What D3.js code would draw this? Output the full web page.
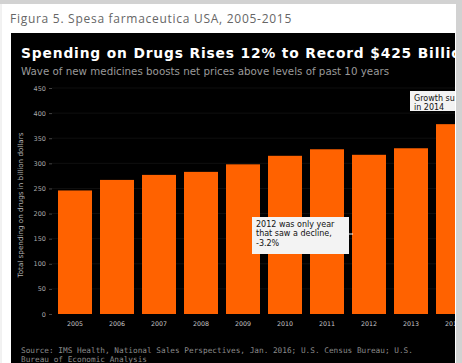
<!DOCTYPE html>
<html>
<head>
<meta charset="utf-8">
<script src="https://cdn.jsdelivr.net/npm/d3@7"></script>
<style>
  html, body { margin: 0; padding: 0; background: #fff; }
  svg { display: block; }
</style>
</head>
<body>
<svg id="chart" width="462" height="363"></svg>
<script>
// US prescription drug spending, billions of dollars
const years = ["2005", "2006", "2007", "2008", "2009", "2010", "2011", "2012", "2013", "2014"];
const spending = [246, 267, 277, 283, 298, 315, 328, 317, 330, 378];
const yTicks = [0, 50, 100, 150, 200, 250, 300, 350, 400, 450];

const svg = d3.select("#chart");
const W = 462, H = 363;

// page frame
svg.append("rect").attr("x", 0).attr("y", 0).attr("width", W).attr("height", H).attr("fill", "#fff");
svg.append("rect").attr("x", 0).attr("y", 0).attr("width", W).attr("height", 4).attr("fill", "#d2d2d2");
svg.append("rect").attr("x", 456).attr("y", 0).attr("width", 6).attr("height", H).attr("fill", "#d2d2d2");
svg.append("line").attr("x1", 1).attr("x2", 1).attr("y1", 4).attr("y2", H).attr("stroke", "#e4e4e4");

svg.append("text")
  .attr("x", 10).attr("y", 23)
  .attr("font-family", "'Open Sans', sans-serif")
  .attr("font-size", 12)
  .attr("letter-spacing", 0.72)
  .attr("fill", "#666")
  .text("Figura 5. Spesa farmaceutica USA, 2005-2015");

// black chart panel
const panel = { x: 11, y: 33, w: 444, h: H - 33 };
svg.append("defs").append("clipPath").attr("id", "panelClip")
  .append("rect").attr("x", panel.x).attr("y", panel.y).attr("width", panel.w).attr("height", panel.h);
svg.append("rect")
  .attr("x", panel.x).attr("y", panel.y).attr("width", panel.w).attr("height", panel.h)
  .attr("fill", "#000");

const g = svg.append("g").attr("clip-path", "url(#panelClip)");

g.append("text")
  .attr("x", 21).attr("y", 58)
  .attr("font-family", "'DejaVu Sans', sans-serif")
  .attr("font-weight", "bold")
  .attr("font-size", 13.8)
  .attr("letter-spacing", 0.85)
  .attr("fill", "#fff")
  .text("Spending on Drugs Rises 12% to Record $425 Billion");

g.append("text")
  .attr("x", 21).attr("y", 75)
  .attr("font-family", "'DejaVu Sans', sans-serif")
  .attr("font-size", 10.3)
  .attr("fill", "#9a9a9a")
  .text("Wave of new medicines boosts net prices above levels of past 10 years");

// scales
const pad = 8 / 42;
const x = d3.scaleBand().domain(years).range([58, 58 + 42 * (years.length - pad)])
  .paddingInner(pad).paddingOuter(0);
const y = d3.scaleLinear().domain([0, 450]).range([314, 88]);

// faint gridlines
g.append("g").selectAll("line").data(yTicks.slice(1)).join("line")
  .attr("x1", 52).attr("x2", 455)
  .attr("y1", d => y(d)).attr("y2", d => y(d))
  .attr("stroke", "#0f0f0f").attr("stroke-width", 1);

// y axis
const yAxis = g.append("g").attr("transform", "translate(52,0)")
  .call(d3.axisLeft(y).tickValues(yTicks).tickSize(3).tickPadding(3));
yAxis.select(".domain").remove();
yAxis.selectAll(".tick line").attr("stroke", "#444");
yAxis.selectAll(".tick text")
  .attr("fill", "#a8a8a8")
  .attr("font-family", "'DejaVu Sans', sans-serif")
  .attr("font-size", 6.5);

g.append("text")
  .attr("transform", "translate(23,205) rotate(-90)")
  .attr("text-anchor", "middle")
  .attr("font-family", "'DejaVu Sans', sans-serif")
  .attr("font-size", 7.2)
  .attr("fill", "#b0b0b0")
  .text("Total spending on drugs in billion dollars");

// bars
g.append("g").selectAll("rect").data(years).join("rect")
  .attr("x", d => x(d))
  .attr("width", x.bandwidth())
  .attr("y", (d, i) => y(spending[i]))
  .attr("height", (d, i) => y(0) - y(spending[i]))
  .attr("fill", "#ff6200");

// x axis
const xAxis = g.append("g").attr("transform", "translate(0,314)")
  .call(d3.axisBottom(x).tickSize(0).tickPadding(8));
xAxis.select(".domain").remove();
xAxis.selectAll(".tick text")
  .attr("fill", "#c8c8c8")
  .attr("font-family", "'DejaVu Sans', sans-serif")
  .attr("font-size", 6.3);

// callouts
function callout(bx, by, bw, bh, lines) {
  const c = g.append("g");
  c.append("rect").attr("x", bx).attr("y", by).attr("width", bw).attr("height", bh)
    .attr("fill", "#f3f3f3");
  c.selectAll("text").data(lines).join("text")
    .attr("x", bx + 4).attr("y", (d, i) => by + 10 + i * 9.4)
    .attr("font-family", "'DejaVu Sans', sans-serif")
    .attr("font-size", 8)
    .attr("fill", "#111")
    .text(d => d);
  return c;
}
const c2012 = callout(252, 217, 97, 37, ["2012 was only year", "that saw a decline,", "-3.2%"]);
c2012.append("line").attr("x1", 349).attr("x2", 353).attr("y1", 234).attr("y2", 234)
  .attr("stroke", "#f3f3f3").attr("stroke-width", 1);
callout(410, 91, 60, 20, ["Growth surged", "in 2014"]);

// source note
g.selectAll("text.src").data([
  "Source: IMS Health, National Sales Perspectives, Jan. 2016; U.S. Census Bureau; U.S.",
  "Bureau of Economic Analysis"
]).join("text")
  .attr("class", "src")
  .attr("x", 21).attr("y", (d, i) => 353 + i * 9)
  .attr("font-family", "'DejaVu Sans Mono', monospace")
  .attr("font-size", 7.75)
  .attr("fill", "#8a8a8a")
  .text(d => d);
</script>
</body>
</html>
